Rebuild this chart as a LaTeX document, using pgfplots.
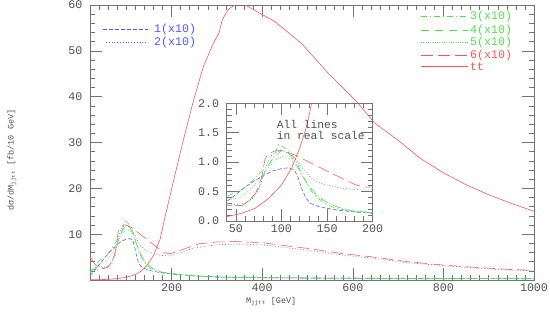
\documentclass[border=0pt]{standalone}
\usepackage{fontspec}
\setmainfont{Liberation Mono}
\usepackage{pgfplots}
\pgfplotsset{compat=1.18}
\usepackage{pgfplotstable}
\definecolor{cblue}{RGB}{85,85,255}
\definecolor{cgreen}{RGB}{80,225,80}
\definecolor{cred}{RGB}{255,85,85}
\definecolor{axgray}{RGB}{115,115,115}
\definecolor{labgray}{RGB}{80,80,80}
\newcommand\tf{\fontsize{11.7}{12}\selectfont}
\newcommand\lf{\fontsize{8.5}{9}\selectfont}

\pgfplotstableread{
x y
20 0.09
30 0.21
40 0.33
50 0.45
60 0.57
70 0.68
80 0.77
90 0.85
100 0.89
108 0.905
114 0.87
118 0.75
122 0.56
127 0.38
132 0.30
140 0.25
155 0.20
175 0.16
200 0.13
250 0.09
300 0.065
400 0.05
500 0.043
600 0.038
700 0.034
800 0.031
900 0.029
1000 0.027
}\sOne
\pgfplotstableread{
x y
20 0.14
30 0.24
40 0.30
50 0.28
60 0.30
68 0.38
75 0.52
80 0.75
84 0.95
88 1.10
95 1.18
102 1.19
110 1.13
118 1.00
125 0.86
132 0.74
140 0.66
150 0.61
165 0.56
180 0.535
190 0.525
200 0.53
220 0.60
250 0.70
300 0.77
350 0.785
400 0.77
450 0.71
500 0.65
575 0.55
650 0.47
720 0.38
800 0.31
870 0.26
940 0.22
1000 0.20
}\sTwo
\pgfplotstableread{
x y
20 0.13
30 0.28
40 0.42
56 0.53
67 0.67
78 0.84
89 1.01
93 1.15
97 1.30
103 1.25
111 1.15
118 0.95
126 0.70
133 0.50
144 0.33
159 0.215
180 0.16
200 0.14
250 0.09
300 0.065
400 0.05
500 0.043
600 0.039
800 0.032
1000 0.028
}\sThree
\pgfplotstableread{
x y
20 0.18
30 0.26
40 0.30
50 0.26
58 0.27
65 0.35
75 0.55
82 0.85
90 1.05
100 1.20
108 1.15
115 1.00
122 0.80
130 0.60
140 0.42
155 0.27
175 0.18
200 0.14
250 0.09
300 0.066
400 0.05
600 0.04
800 0.033
1000 0.03
}\sFour
\pgfplotstableread{
x y
20 0.10
30 0.22
40 0.35
55 0.40
70 0.60
85 0.90
95 1.05
102 1.10
110 1.05
118 0.90
126 0.68
135 0.48
145 0.35
160 0.24
180 0.17
200 0.14
250 0.09
300 0.065
400 0.05
600 0.04
800 0.033
1000 0.029
}\sFive
\pgfplotstableread{
x y
20 0.51
30 0.36
40 0.27
50 0.25
58 0.27
65 0.35
72 0.48
78 0.72
82 1.05
86 1.15
96 1.205
105 1.18
115 1.12
137 0.95
159 0.78
175 0.66
182 0.61
192 0.575
200 0.58
220 0.65
260 0.79
300 0.83
340 0.84
400 0.815
450 0.75
500 0.69
575 0.58
650 0.495
720 0.40
800 0.325
870 0.276
940 0.233
1000 0.21
}\sSix
\pgfplotstableread{
x y
20 0.05
40 0.073
56 0.13
71 0.215
86 0.385
100 0.61
111 0.895
120 1.235
128 1.63
133 2.0
145 3.1
160 5.3
175 9.0
185 13.5
204 21.5
226 30.5
248 39
270 46.5
292 51.6
305 54
312 56.8
325 59
340 60.1
356 60.4
395 58.2
428 56.4
487 51.6
546 45.1
605 39.3
649 34.2
700 30.5
748 26.6
800 23.4
850 20.8
900 18.6
950 16.7
1000 15.0
}\sTT

\tikzset{
  s1/.style={cblue, line width=0.55bp, dash pattern=on 4bp off 2bp},
  s2/.style={cblue, line width=0.55bp, dash pattern=on 0.8bp off 2bp},
  s3/.style={cgreen, line width=0.55bp, dash pattern=on 6bp off 3bp on 1bp off 3bp},
  s4/.style={cgreen, line width=0.55bp, dash pattern=on 8bp off 6bp},
  s5/.style={cgreen, line width=0.55bp, dash pattern=on 0.8bp off 1.5bp},
  s6/.style={cred, line width=0.55bp, dash pattern=on 12bp off 5bp},
  stt/.style={cred, line width=0.6bp},
}
\pgfplotsset{
  myax/.style={
    scale only axis,
    axis line style={axgray, line width=0.6bp},
    tick style={axgray, line width=0.5bp},
    major tick length=12bp, minor tick length=5bp,
    ticklabel style={font=\tf, text=labgray},
    /pgf/number format/assume math mode=true,
    /pgf/number format/1000 sep={},
    tick align=inside,
  },
}

\begin{document}
\begin{tikzpicture}
\path[use as bounding box] (-90bp,-34bp) rectangle (460bp,280bp);
\begin{axis}[myax,
  at={(0bp,0bp)}, anchor=south west,
  width=444bp, height=275bp,
  xmin=20, xmax=1000, ymin=0, ymax=60,
  xtick={200,400,600,800,1000}, minor xtick={40,60,...,980},
  ytick={10,20,...,60}, minor ytick={2,4,...,58},
  yticklabel style={xshift=-4bp},
  xlabel={M\textsubscript{jjττ} [GeV]},
  ylabel={dσ/dM\textsubscript{jjττ} [fb/10 GeV]},
  xlabel style={font=\lf, text=labgray, at={(axis description cs:0.408,-0.079)}, anchor=center},
  ylabel style={font=\lf, text=labgray, at={(axis description cs:-0.1757,0.436)}, anchor=center, rotate=0},
]
\addplot[s1] table[x=x, y expr=10*\thisrow{y}] {\sOne};
\addplot[s2] table[x=x, y expr=10*\thisrow{y}] {\sTwo};
\addplot[s3] table[x=x, y expr=10*\thisrow{y}] {\sThree};
\addplot[s4] table[x=x, y expr=10*\thisrow{y}] {\sFour};
\addplot[s5] table[x=x, y expr=10*\thisrow{y}] {\sFive};
\addplot[s6] table[x=x, y expr=10*\thisrow{y}] {\sSix};
\addplot[stt] table[x=x, y=y] {\sTT};
\end{axis}
\begin{axis}[myax,
  at={(136.7bp,59bp)}, anchor=south west,
  width=146bp, height=117.7bp,
  xmin=40, xmax=200, ymin=0, ymax=2,
  xtick={50,100,150,200}, minor xtick={40,50,...,200},
  ytick={0,0.5,...,2}, minor ytick={0.1,0.2,...,1.9},
  yticklabel style={xshift=-4bp, /pgf/number format/.cd, fixed, fixed zerofill, precision=1},
]
\addplot[s1] table[x=x, y=y] {\sOne};
\addplot[s2] table[x=x, y=y] {\sTwo};
\addplot[s3] table[x=x, y=y] {\sThree};
\addplot[s4] table[x=x, y=y] {\sFour};
\addplot[s5] table[x=x, y=y] {\sFive};
\addplot[s6] table[x=x, y=y] {\sSix};
\addplot[stt] table[x=x, y=y] {\sTT};
\node[anchor=north west, align=left, font=\fontsize{11.3}{11}\selectfont, text=labgray, inner sep=0pt] at (axis cs:94.8,1.72) {All lines\\in real scale};
\end{axis}
% legends
\draw[s1] (13bp,250.5bp) -- (58bp,250.5bp);
\node[anchor=west, inner sep=0pt, font=\tf, text=cblue] at (64bp,250.5bp) {1(x10)};
\draw[s2] (16bp,238bp) -- (58bp,238bp);
\node[anchor=west, inner sep=0pt, font=\tf, text=cblue] at (64bp,238bp) {2(x10)};
\draw[s3] (331bp,264bp) -- (377.7bp,264bp);
\node[anchor=west, inner sep=0pt, font=\tf, text=cgreen] at (380bp,264bp) {3(x10)};
\draw[s4] (331bp,250bp) -- (377.7bp,250bp);
\node[anchor=west, inner sep=0pt, font=\tf, text=cgreen] at (380bp,250bp) {4(x10)};
\draw[s5] (331bp,237.7bp) -- (377.7bp,237.7bp);
\node[anchor=west, inner sep=0pt, font=\tf, text=cgreen] at (380bp,237.7bp) {5(x10)};
\draw[s6] (331bp,225bp) -- (377.7bp,225bp);
\node[anchor=west, inner sep=0pt, font=\tf, text=cred] at (380bp,225bp) {6(x10)};
\draw[stt, line width=1bp] (331bp,213bp) -- (377.7bp,213bp);
\node[anchor=west, inner sep=0pt, font=\tf, text=cred] at (380bp,213bp) {tt};
\end{tikzpicture}
\end{document}
